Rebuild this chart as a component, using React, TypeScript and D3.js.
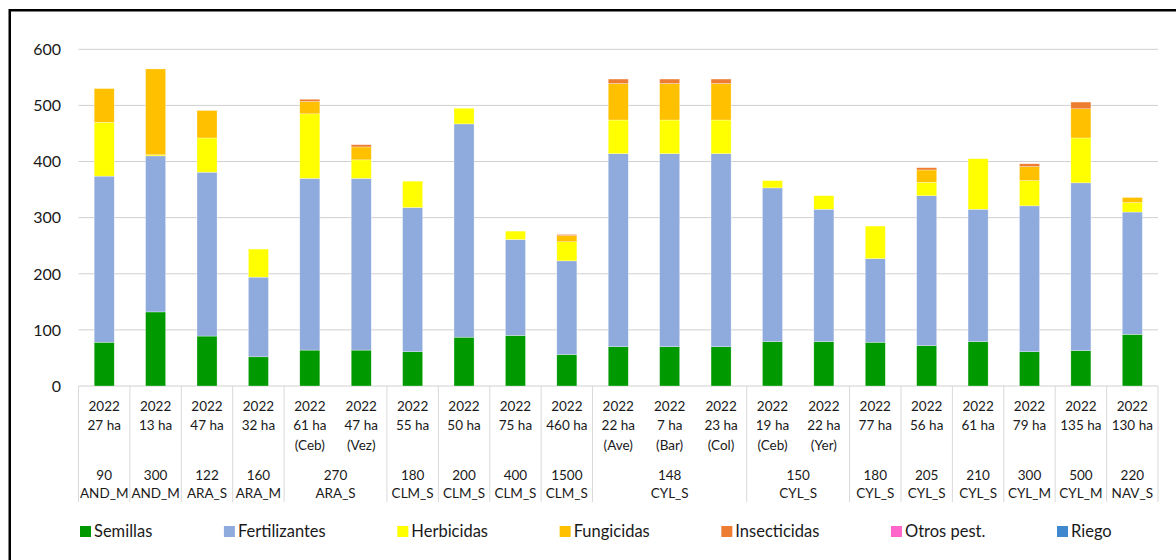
import React from "react";
import * as d3 from "d3";

const years = Array.from({ length: 21 }, () => "2022");
const areas = ["27 ha", "13 ha", "47 ha", "32 ha", "61  ha", "47  ha", "55 ha", "50 ha", "75 ha", "460 ha", "22  ha", "7  ha", "23  ha", "19 ha", "22 ha", "77 ha", "56 ha", "61 ha", "79 ha", "135 ha", "130 ha"];
const subs = ["", "", "", "", "(Ceb)", "(Vez)", "", "", "", "", "(Ave)", "(Bar)", "(Col)", "(Ceb)", "(Yer)", "", "", "", "", "", ""];

const groupCounts = [1, 1, 1, 1, 2, 1, 1, 1, 1, 3, 2, 1, 1, 1, 1, 1, 1];
const groupSizes = ["90", "300", "122", "160", "270", "180", "200", "400", "1500", "148", "150", "180", "205", "210", "300", "500", "220"];
const groupRegions = ["AND_M", "AND_M", "ARA_S", "ARA_M", "ARA_S", "CLM_S", "CLM_S", "CLM_S", "CLM_S", "CYL_S", "CYL_S", "CYL_S", "CYL_S", "CYL_S", "CYL_M", "CYL_M", "NAV_S"];

const semillas = [78, 132, 89, 52, 64, 64, 61, 87, 90, 56, 70, 70, 70, 79, 79, 78, 72, 79, 61, 63, 92];
const fertilizantes = [296, 278, 292, 142, 306, 306, 257, 380, 171, 167, 344, 344, 344, 274, 236, 149, 267, 236, 260, 299, 218];
const herbicidas = [96, 2, 61, 50, 115, 33, 47, 28, 15, 34, 60, 60, 60, 13, 24, 58, 24, 90, 45, 80, 17];
const fungicidas = [60, 153, 49, 0, 22, 23, 0, 0, 0, 11, 65, 65, 65, 0, 0, 0, 22, 0, 25, 52, 9];
const insecticidas = [0, 0, 0, 0, 4, 4, 0, 0, 0, 2, 8, 8, 8, 0, 0, 0, 4, 0, 5, 12, 0];
const otrosPest = Array.from({ length: 21 }, () => 0);
const riego = Array.from({ length: 21 }, () => 0);

const seriesNames = ["Semillas", "Fertilizantes", "Herbicidas", "Fungicidas", "Insecticidas", "Otros pest.", "Riego"];
const seriesColors = ["#009900", "#8faadc", "#ffff00", "#ffc000", "#ed7d31", "#ff66cc", "#3f88d0"];
const seriesValues = [semillas, fertilizantes, herbicidas, fungicidas, insecticidas, otrosPest, riego];
const yTicks = [0, 100, 200, 300, 400, 500, 600];

const FONT = "Lato, 'Open Sans', sans-serif";

function measure(text: string, size: number) {
  const c = document.createElement("canvas").getContext("2d");
  if (!c) return text.length * size * 0.5;
  c.font = `${size}px Lato`;
  return c.measureText(text).width;
}

export default function App() {
  const W = 1176, H = 560;
  const x0 = 78.5, x1 = 1158, yTop = 49.3, yBase = 386;
  const idx = d3.range(areas.length);
  const x = d3.scaleBand<number>().domain(idx).range([x0, x1]).padding(0);
  const y = d3.scaleLinear().domain([0, 600]).range([yBase, yTop]);
  const barW = x.bandwidth() * 0.39;

  const rows = idx.map((i) => {
    const r: any = { i };
    seriesNames.forEach((s, k) => (r[s] = seriesValues[k][i]));
    return r;
  });
  const stacked = d3.stack<any>().keys(seriesNames)(rows);

  const groups: { start: number; end: number; size: string; region: string }[] = [];
  let cur = 0;
  groupCounts.forEach((n, g) => {
    groups.push({ start: cur, end: cur + n, size: groupSizes[g], region: groupRegions[g] });
    cur += n;
  });
  const boundaries = [0, ...groups.map((g) => g.end)];

  const legendSize = 16.5;
  const widths = seriesNames.map((s) => measure(s, legendSize));
  const lx0 = 80, lxLast = 1057, sq = 11, tp = 14;
  const sumPrev = widths.slice(0, 6).reduce((a, b) => a + b + tp, 0);
  const gap = (lxLast - lx0 - sumPrev) / 6;
  const legendX: number[] = [];
  let lx = lx0;
  widths.forEach((w) => {
    legendX.push(lx);
    lx += tp + w + gap;
  });

  const textColor = "#1a1a1a";
  const catSize = 13.5;

  return (
    <svg width={W} height={H} style={{ position: "absolute", left: 0, top: 0, background: "#fff" }} fontFamily={FONT}>
      <rect x={0} y={0} width={W} height={H} fill="#fff" />
      {yTicks.map((t) => (
        <g key={t}>
          <line x1={x0} x2={x1} y1={y(t)} y2={y(t)} stroke="#d0d0d0" strokeWidth={1} />
          <text x={61} y={y(t)} dy="0.36em" textAnchor="end" fontSize={16} fill={textColor}>
            {t}
          </text>
        </g>
      ))}
      {stacked.map((layer, k) => (
        <g key={layer.key} fill={seriesColors[k]}>
          {layer.map((d, i) =>
            d[1] - d[0] > 0 ? (
              <rect
                key={i}
                x={(x(i) as number) + (x.bandwidth() - barW) / 2}
                y={y(d[1])}
                width={barW}
                height={y(d[0]) - y(d[1])}
                stroke="#ffffff"
                strokeWidth={0.5}
                strokeOpacity={0.6}
              />
            ) : null
          )}
        </g>
      ))}
      {boundaries.map((b, k) => {
        const xx = b < areas.length ? (x(b) as number) : x1;
        return <line key={k} x1={xx} x2={xx} y1={yBase} y2={502} stroke="#d9d9d9" strokeWidth={1} />;
      })}
      {idx.map((i) => {
        const cx = (x(i) as number) + x.bandwidth() / 2;
        return (
          <g key={i} fontSize={catSize} fill={textColor} textAnchor="middle" style={{ whiteSpace: "pre" }}>
            <text x={cx} y={406} dy="0.35em">{years[i]}</text>
            <text x={cx} y={425} dy="0.35em">{areas[i]}</text>
            {subs[i] ? <text x={cx} y={445} dy="0.35em">{subs[i]}</text> : null}
          </g>
        );
      })}
      {groups.map((g, k) => {
        const cx = ((x(g.start) as number) + (g.end < areas.length ? (x(g.end) as number) : x1)) / 2;
        return (
          <g key={k} fontSize={catSize} fill={textColor} textAnchor="middle">
            <text x={cx} y={475} dy="0.35em">{g.size}</text>
            <text x={cx} y={493} dy="0.35em">{g.region}</text>
          </g>
        );
      })}
      {seriesNames.map((s, k) => (
        <g key={s}>
          <rect x={legendX[k]} y={526} width={sq} height={sq} fill={seriesColors[k]} />
          <text x={legendX[k] + tp} y={531.5} dy="0.36em" fontSize={legendSize} fill={textColor}>
            {s}
          </text>
        </g>
      ))}
      <rect x={9.75} y={10.25} width={W + 50} height={H + 50} fill="none" stroke="#000" strokeWidth={2.5} />
    </svg>
  );
}
